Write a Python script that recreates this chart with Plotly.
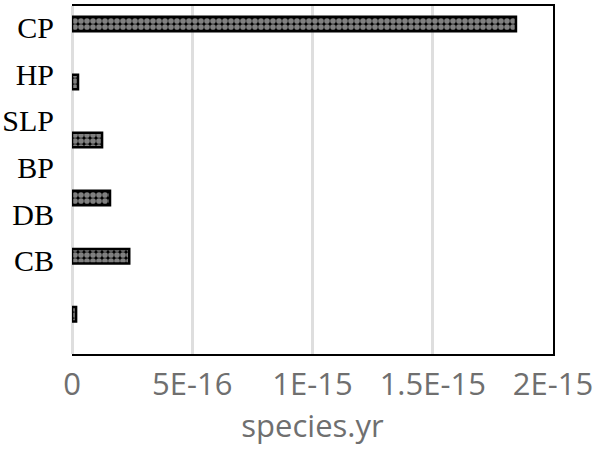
import plotly.graph_objects as go

# bar categories and values (species.yr)
categories = ['CP', 'HP', 'SLP', 'BP', 'DB', 'CB']
values = [1.846e-15, 2.5e-17, 1.25e-16, 1.58e-16, 2.38e-16, 1.7e-17]

# labels as they sit on the left of the original chart
labels = ['CP', 'HP', 'SLP', 'BP', 'DB', 'CB']

tick_vals = [0, 5e-16, 1e-15, 1.5e-15, 2e-15]
tick_text = ['0', '5E-16', '1E-15', '1.5E-15', '2E-15']

fig = go.Figure()

fig.add_trace(go.Bar(
    x=values, y=categories, orientation='h',
    width=0.25,
    marker=dict(
        color='black',
        line=dict(color='black', width=2.5),
        pattern=dict(shape='.', fgcolor='white', bgcolor='black',
                     size=6, solidity=0.7),
    ),
    showlegend=False,
))

# invisible trace that carries the left hand labels
fig.add_trace(go.Scatter(
    x=[0] * len(labels), y=labels, yaxis='y2',
    mode='markers', marker=dict(opacity=0),
    showlegend=False, hoverinfo='skip',
))

fig.update_layout(
    width=600, height=450,
    margin=dict(l=72, r=47, t=4, b=96),
    paper_bgcolor='white', plot_bgcolor='white',
    xaxis=dict(
        range=[0, 2e-15],
        tickvals=tick_vals, ticktext=tick_text,
        showgrid=True, gridcolor='#dedede', gridwidth=2.5,
        zeroline=True, zerolinecolor='#dedede', zerolinewidth=2.5,
        showline=True, linecolor='black', linewidth=2, mirror=True,
        ticks='', ticklabelstandoff=2,
        tickfont=dict(family='Open Sans', size=31, color='#6f6f6f'),
        title=dict(text='species.yr', standoff=8,
                   font=dict(family='Open Sans', size=31, color='#6f6f6f')),
    ),
    yaxis=dict(
        type='category', categoryarray=categories,
        range=[5.685, -0.308],
        side='right', showline=True, linecolor='black', linewidth=2,
        showticklabels=False, showgrid=False, ticks='',
        automargin=False,
    ),
    yaxis2=dict(
        type='category', categoryarray=labels,
        range=[7.0, -0.46],
        overlaying='y', side='left',
        showline=False, showgrid=False, ticks='',
        ticklabelstandoff=17, automargin=False,
        tickfont=dict(family='Liberation Serif', size=30, color='black'),
    ),
)

# drop the default 8px page margin so the figure sits at the window corner
fig.write_html("out.html", config={'displayModeBar': False},
               post_script="document.body.style.margin='0';")
